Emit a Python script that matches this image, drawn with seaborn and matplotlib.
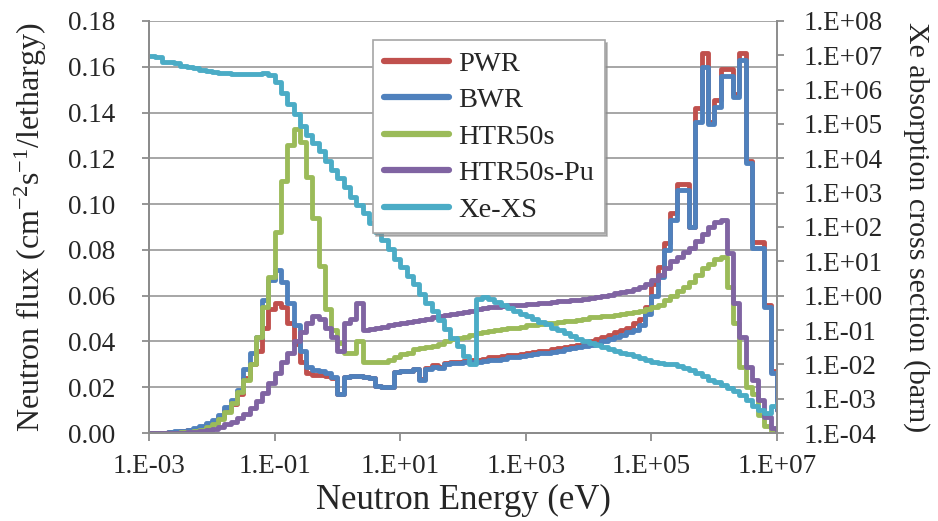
import numpy as np
import pandas as pd
import matplotlib
matplotlib.use("Agg")
import matplotlib.pyplot as plt
from matplotlib.lines import Line2D
from matplotlib.ticker import FixedLocator, FuncFormatter, NullLocator
import seaborn as sns

# ---------------- data ----------------
energy_ev = [
    1.0e-3, 1.26e-3, 1.58e-3, 2.0e-3, 2.51e-3, 3.16e-3, 3.98e-3, 5.01e-3, 6.31e-3, 7.94e-3,
    1.0e-2, 1.26e-2, 1.58e-2, 2.0e-2, 2.51e-2, 3.16e-2, 3.98e-2, 5.01e-2, 6.31e-2, 7.94e-2,
    1.0e-1, 1.26e-1, 1.58e-1, 2.0e-1, 2.51e-1, 3.16e-1, 3.98e-1, 5.01e-1, 6.31e-1, 7.94e-1,
    1.0e0, 1.26e0, 1.58e0, 2.0e0, 2.51e0, 3.16e0, 3.98e0, 5.01e0, 6.31e0, 7.94e0,
    1.0e1, 1.26e1, 1.58e1, 2.0e1, 2.51e1, 3.16e1, 3.98e1, 5.01e1, 6.31e1, 7.94e1,
    1.0e2, 1.26e2, 1.58e2, 2.0e2, 2.51e2, 3.16e2, 3.98e2, 5.01e2, 6.31e2, 7.94e2,
    1.0e3, 1.26e3, 1.58e3, 2.0e3, 2.51e3, 3.16e3, 3.98e3, 5.01e3, 6.31e3, 7.94e3,
    1.0e4, 1.26e4, 1.58e4, 2.0e4, 2.51e4, 3.16e4, 3.98e4, 5.01e4, 6.31e4, 7.94e4,
    1.0e5, 1.26e5, 1.58e5, 2.0e5, 2.51e5, 3.16e5, 3.98e5, 5.01e5, 6.31e5, 7.94e5,
    1.0e6, 1.26e6, 1.58e6, 2.0e6, 2.51e6, 3.16e6, 3.98e6, 5.01e6, 6.31e6, 7.94e6,
    1.0e7,
]

pwr = [
    0.0, 0.0001, 0.0002, 0.0003, 0.0006, 0.0009, 0.0013, 0.0018, 0.0027, 0.0038,
    0.005, 0.007, 0.010, 0.0125, 0.017, 0.024, 0.030, 0.036, 0.046, 0.054,
    0.057, 0.055, 0.048, 0.039, 0.031, 0.026, 0.0255, 0.0255, 0.025, 0.024,
    0.017, 0.0245, 0.025, 0.025, 0.0245, 0.024, 0.0205, 0.020, 0.020, 0.0265,
    0.027, 0.027, 0.028, 0.0235, 0.0285, 0.0295, 0.029, 0.0305, 0.031, 0.031,
    0.0315, 0.032, 0.032, 0.0325, 0.033, 0.033, 0.0335, 0.034, 0.034, 0.0345,
    0.035, 0.0355, 0.036, 0.036, 0.0365, 0.037, 0.0375, 0.038, 0.0385, 0.039,
    0.040, 0.041, 0.042, 0.043, 0.044, 0.045, 0.046, 0.048, 0.050, 0.055,
    0.065, 0.0726, 0.083, 0.096, 0.109, 0.109, 0.090, 0.142, 0.166, 0.136,
    0.1455, 0.159, 0.159, 0.148, 0.166, 0.119, 0.0835, 0.0835, 0.056, 0.027,
    0.010,
]

bwr = [
    0.0, 0.0001, 0.0002, 0.0004, 0.0007, 0.001, 0.0014, 0.002, 0.003, 0.0042,
    0.0055, 0.008, 0.0115, 0.0145, 0.019, 0.028, 0.035, 0.042, 0.058, 0.067,
    0.071, 0.066, 0.057, 0.047, 0.036, 0.029, 0.0275, 0.027, 0.026, 0.0245,
    0.017, 0.0245, 0.025, 0.025, 0.0245, 0.024, 0.0205, 0.020, 0.020, 0.0265,
    0.027, 0.027, 0.028, 0.023, 0.028, 0.029, 0.0285, 0.030, 0.0305, 0.0305,
    0.031, 0.031, 0.031, 0.0315, 0.032, 0.032, 0.0325, 0.033, 0.033, 0.0335,
    0.034, 0.0345, 0.035, 0.035, 0.0355, 0.036, 0.0365, 0.037, 0.0375, 0.038,
    0.0385, 0.039, 0.040, 0.041, 0.042, 0.043, 0.044, 0.045, 0.047, 0.052,
    0.060, 0.068, 0.080, 0.093, 0.106, 0.106, 0.090, 0.136, 0.160, 0.135,
    0.1425, 0.156, 0.156, 0.147, 0.163, 0.118, 0.081, 0.081, 0.055, 0.026,
    0.010,
]

htr50s = [
    0.0, 0.0, 0.0, 0.0001, 0.0002, 0.0004, 0.0006, 0.001, 0.0015, 0.0025,
    0.004, 0.006, 0.009, 0.013, 0.018, 0.023, 0.030, 0.042, 0.055, 0.068,
    0.088, 0.110, 0.126, 0.133, 0.127, 0.112, 0.094, 0.073, 0.054, 0.045,
    0.0395, 0.035, 0.035, 0.040, 0.031, 0.031, 0.031, 0.031, 0.032, 0.033,
    0.0345, 0.035, 0.0365, 0.037, 0.0375, 0.038, 0.039, 0.040, 0.041, 0.0415,
    0.042, 0.043, 0.0435, 0.044, 0.0445, 0.045, 0.0455, 0.046, 0.046, 0.0465,
    0.047, 0.0472, 0.0475, 0.048, 0.048, 0.0485, 0.049, 0.049, 0.0495, 0.050,
    0.0505, 0.0508, 0.051, 0.0512, 0.0515, 0.052, 0.0525, 0.053, 0.0535, 0.054,
    0.055, 0.056, 0.058, 0.060, 0.062, 0.064, 0.066, 0.069, 0.072, 0.074,
    0.076, 0.077, 0.064, 0.048, 0.029, 0.020, 0.017, 0.008, 0.003, 0.001,
    0.0005,
]

htr50s_pu = [
    0.0, 0.0, 0.0, 0.0, 0.0001, 0.0002, 0.0003, 0.0005, 0.0008, 0.0012,
    0.0018, 0.0027, 0.0038, 0.005, 0.0065, 0.0085, 0.011, 0.014, 0.0175, 0.022,
    0.026, 0.031, 0.035, 0.040, 0.044, 0.048, 0.051, 0.050, 0.046, 0.042,
    0.036, 0.048, 0.050, 0.057, 0.045, 0.0455, 0.046, 0.0465, 0.047, 0.0475,
    0.048, 0.0485, 0.049, 0.0495, 0.050, 0.0505, 0.051, 0.0515, 0.052, 0.0525,
    0.053, 0.0535, 0.054, 0.0545, 0.055, 0.0552, 0.0555, 0.0558, 0.056, 0.056,
    0.0562, 0.0565, 0.0568, 0.057, 0.0572, 0.0575, 0.0578, 0.058, 0.0583, 0.0586,
    0.059, 0.0595, 0.060, 0.0605, 0.061, 0.0615, 0.062, 0.063, 0.064, 0.065,
    0.067, 0.069, 0.072, 0.075, 0.077, 0.079, 0.081, 0.084, 0.087, 0.090,
    0.092, 0.093, 0.0786, 0.057, 0.042, 0.029, 0.023, 0.0144, 0.007, 0.002,
    0.001,
]

xe_xs_barn = [
    9.5e6, 8.9e6, 6.3e6, 6.2e6, 5.8e6, 4.8e6, 4.6e6, 4.2e6, 3.8e6, 3.5e6,
    3.3e6, 3.1e6, 3.0e6, 2.9e6, 2.8e6, 2.8e6, 2.8e6, 2.9e6, 3.0e6, 2.6e6,
    1.7e6, 7.9e5, 3.8e5, 1.9e5, 8.7e4, 4.9e4, 2.8e4, 1.6e4, 8.1e3, 4.6e3,
    2.6e3, 1.5e3, 760, 440, 250, 130, 72, 41, 23, 12,
    6.9, 3.8, 2.2, 1.1, 0.63, 0.36, 0.20, 0.105, 0.060, 0.034,
    0.017, 0.010, 0.79, 0.89, 0.79, 0.65, 0.52, 0.44, 0.36, 0.30,
    0.25, 0.21, 0.17, 0.145, 0.117, 0.098, 0.081, 0.066, 0.054, 0.047,
    0.042, 0.036, 0.032, 0.028, 0.025, 0.022, 0.0195, 0.0174, 0.0151, 0.0135,
    0.012, 0.011, 0.0105, 0.010, 0.0087, 0.0076, 0.0069, 0.0056, 0.0045, 0.0036,
    0.0030, 0.0025, 0.0020, 0.00166, 0.00126, 0.00089, 0.00063, 0.00047, 0.00038, 0.00063,
    0.00074,
]

flux_series = ["PWR", "BWR", "HTR50s", "HTR50s-Pu"]
xe_label = "Xe-XS"
x_tick_values = [1e-3, 1e-1, 1e1, 1e3, 1e5, 1e7]
left_ticks = [0.00, 0.02, 0.04, 0.06, 0.08, 0.10, 0.12, 0.14, 0.16, 0.18]
right_ticks = [1e-4, 1e-3, 1e-2, 1e-1, 1e0, 1e1, 1e2, 1e3, 1e4, 1e5, 1e6, 1e7, 1e8]

colors = {
    "PWR": "#C0504D",
    "BWR": "#4F81BD",
    "HTR50s": "#9BBB59",
    "HTR50s-Pu": "#8064A2",
    "Xe-XS": "#4BACC6",
}

# ---------------- style ----------------
sns.set_style("white")
plt.rcParams["font.family"] = ["Liberation Serif", "DejaVu Serif"]
plt.rcParams["mathtext.fontset"] = "custom"
plt.rcParams["mathtext.rm"] = "Liberation Serif"
plt.rcParams["mathtext.it"] = "Liberation Serif:italic"
plt.rcParams["mathtext.bf"] = "Liberation Serif:bold"

GRAY = "#8C8C8C"
TICK_FS = 19.5
LW = 3.5

df = pd.DataFrame({
    "energy": energy_ev * 4,
    "flux": pwr + bwr + htr50s + htr50s_pu,
    "series": sum([[n] * len(energy_ev) for n in flux_series], []),
})

fig = plt.figure(figsize=(9.38, 5.21), dpi=100)
ax = fig.add_axes([0.1589, 0.1689, 0.6695, 0.7908])

sns.lineplot(data=df, x="energy", y="flux", hue="series", hue_order=flux_series,
             palette=colors, estimator=None, sort=False, drawstyle="steps-post",
             lw=LW, legend=False, ax=ax)
ax.set_xscale("log")
ax.set_xlim(1e-3, 1e7)
ax.set_ylim(0, 0.18)

ax2 = ax.twinx()
sns.lineplot(x=energy_ev, y=xe_xs_barn, ax=ax2, color=colors["Xe-XS"],
             estimator=None, sort=False, drawstyle="steps-post", lw=LW, legend=False)
ax2.set_yscale("log")
ax2.set_ylim(1e-4, 1e8)
ax2.set_xlim(1e-3, 1e7)

# ticks & grid
ax.xaxis.set_major_locator(FixedLocator(x_tick_values))
ax.xaxis.set_minor_locator(NullLocator())
ax.xaxis.set_major_formatter(FuncFormatter(lambda v, p: "1.E{:+03d}".format(int(round(np.log10(v))))))
ax.yaxis.set_major_locator(FixedLocator(left_ticks))
ax.yaxis.set_major_formatter(FuncFormatter(lambda v, p: "{:.2f}".format(v)))
ax2.yaxis.set_major_locator(FixedLocator(right_ticks))
ax2.yaxis.set_minor_locator(NullLocator())
ax2.yaxis.set_major_formatter(FuncFormatter(lambda v, p: "1.E{:+03d}".format(int(round(np.log10(v))))))

ax.yaxis.grid(True, color="#A6A6A6", lw=1.4)
ax.xaxis.grid(False)
ax.set_axisbelow(True)

ax.tick_params(axis="x", direction="out", length=6, width=1.3, color=GRAY,
               labelsize=TICK_FS, pad=9, bottom=True)
ax.tick_params(axis="y", direction="out", length=5, width=1.3, color=GRAY,
               labelsize=TICK_FS, pad=19, left=True)
ax2.tick_params(axis="y", which="both", direction="out", length=5, width=1.3, color=GRAY,
                labelsize=TICK_FS, pad=14, right=True, labelright=True)

for a in (ax, ax2):
    a.spines["top"].set_visible(False)
    for s in ("left", "bottom", "right"):
        a.spines[s].set_color(GRAY)
        a.spines[s].set_linewidth(1.4)
ax.spines["right"].set_visible(False)

ax.set_xlabel("Neutron Energy (eV)", fontsize=25, labelpad=4)
ax.set_ylabel(r"Neutron flux (cm$^{\mathrm{-2}}$s$^{\mathrm{-1}}$/lethargy)", fontsize=23, labelpad=14)
ax2.set_ylabel("Xe absorption cross section (barn)", fontsize=21.5, rotation=270,
               labelpad=34)

handles = [Line2D([], [], color=colors[n], lw=4.5, solid_capstyle="round")
           for n in flux_series + [xe_label]]
leg = ax2.legend(handles, flux_series + [xe_label], loc="upper left",
                 bbox_to_anchor=(0.3567, 0.9539), borderaxespad=0.0,
                 frameon=True, fancybox=False,
                 edgecolor="#A6A6A6", framealpha=1.0, fontsize=20.5,
                 handlelength=2.3, handletextpad=0.3, labelspacing=0.37,
                 borderpad=0.38, shadow={"color": "0.55", "alpha": 0.6})
leg.get_frame().set_linewidth(1.2)
leg.set_zorder(10)

fig.savefig("out.png", dpi=100)
